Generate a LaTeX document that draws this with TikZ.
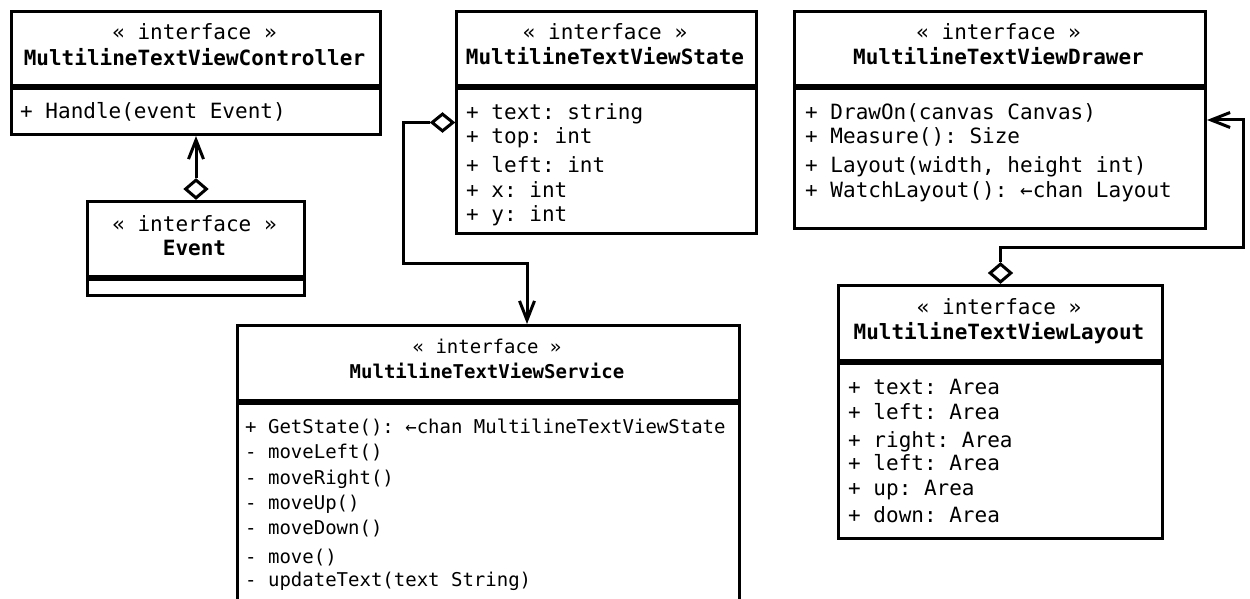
\documentclass[tikz,border=0pt]{standalone}
\usepackage{fontspec}
\setmonofont{DejaVu Sans Mono}
\usetikzlibrary{arrows.meta,shapes.geometric}
\begin{document}
\begin{tikzpicture}[x=1pt,y=-1pt,
  cls/.style={draw, line width=3pt, rectangle, inner sep=0pt, anchor=north west, fill=white},
  divline/.style={line width=6pt},
  txt/.style={inner sep=0pt, anchor=base west, font=\fontsize{21}{25}\selectfont\ttfamily},
  ttl/.style={inner sep=0pt, anchor=base, font=\fontsize{21}{25}\selectfont\ttfamily},
  nm/.style={inner sep=0pt, anchor=base, font=\fontsize{21}{25}\selectfont\ttfamily\bfseries},
  stxt/.style={inner sep=0pt, anchor=base west, font=\fontsize{19}{23}\selectfont\ttfamily},
  sttl/.style={inner sep=0pt, anchor=base, font=\fontsize{19}{23}\selectfont\ttfamily},
  snm/.style={inner sep=0pt, anchor=base, font=\fontsize{19}{23}\selectfont\ttfamily\bfseries},
  agg/.style={diamond, draw, fill=white, line width=3pt, inner sep=0pt, line join=miter},
  assoc/.style={line width=3pt, line join=miter, -{Straight Barb[length=19pt,width=15pt]}}
]
\useasboundingbox (0,0) rectangle (1250,599);
\clip (0,0) rectangle (1250,599);

% class boxes
\node[cls, minimum width=369pt, minimum height=123pt] (ctrl)   at (10,10)   {};
\node[cls, minimum width=217pt, minimum height=94pt]  (event)  at (86,200)  {};
\node[cls, minimum width=300pt, minimum height=222pt] (state)  at (455,10)  {};
\node[cls, minimum width=411pt, minimum height=217pt] (drawer) at (793,10)  {};
\node[cls, minimum width=324pt, minimum height=253pt] (layout) at (837,284) {};
\node[cls, minimum width=502pt, minimum height=320pt] (service) at (236,324) {};

% compartment dividers
\foreach \b in {ctrl,event,state,drawer,layout,service}
  \draw[divline] ([yshift=-77.5pt]\b.north west) -- ([yshift=-77.5pt]\b.north east);

% MultilineTextViewController
\node[ttl] (ctrl-st) at (194.5,40) {« interface »};
\node[nm]  (ctrl-nm) at (194.5,66) {MultilineTextViewController};
\node[txt] (ctrl-m1) at (20,119) {+ Handle(event Event)};

% Event
\node[ttl] (event-st) at (194.5,231) {« interface »};
\node[nm]  (event-nm) at (194.5,255) {Event};

% MultilineTextViewState
\node[ttl] (state-st) at (605,40) {« interface »};
\node[nm]  (state-nm) at (605,65) {MultilineTextViewState};
\node[txt] (state-a1) at (466,120) {+ text: string};
\node[txt] (state-a2) at (466,144) {+ top: int};
\node[txt] (state-a3) at (466,172) {+ left: int};
\node[txt] (state-a4) at (466,197) {+ x: int};
\node[txt] (state-a5) at (466,221) {+ y: int};

% MultilineTextViewDrawer
\node[ttl] (drawer-st) at (998.5,40) {« interface »};
\node[nm]  (drawer-nm) at (998.5,65) {MultilineTextViewDrawer};
\node[txt] (drawer-m1) at (805,120) {+ DrawOn(canvas Canvas)};
\node[txt] (drawer-m2) at (805,144) {+ Measure(): Size};
\node[txt] (drawer-m3) at (805,172) {+ Layout(width, height int)};
\node[txt] (drawer-m4) at (805,197) {+ WatchLayout(): ←chan Layout};

% MultilineTextViewLayout
\node[ttl] (layout-st) at (999,314) {« interface »};
\node[nm]  (layout-nm) at (999,339) {MultilineTextViewLayout};
\node[txt] (layout-a1) at (848,394) {+ text: Area};
\node[txt] (layout-a2) at (848,419) {+ left: Area};
\node[txt] (layout-a3) at (848,447) {+ right: Area};
\node[txt] (layout-a4) at (848,470) {+ left: Area};
\node[txt] (layout-a5) at (848,495) {+ up: Area};
\node[txt] (layout-a6) at (848,522) {+ down: Area};

% MultilineTextViewService
\node[sttl] (service-st) at (487,353) {« interface »};
\node[snm]  (service-nm) at (487,378) {MultilineTextViewService};
\node[stxt] (service-m1) at (245,433) {+ GetState(): ←chan MultilineTextViewState};
\node[stxt] (service-m2) at (245,458) {- moveLeft()};
\node[stxt] (service-m3) at (245,484) {- moveRight()};
\node[stxt] (service-m4) at (245,509) {- moveUp()};
\node[stxt] (service-m5) at (245,534) {- moveDown()};
\node[stxt] (service-m6) at (245,563) {- move()};
\node[stxt] (service-m7) at (245,586) {- updateText(text String)};

% aggregation diamonds at the owning ends
\node[agg, minimum width=22pt, minimum height=19pt, anchor=south] (evDia) at (event.north) {};
\node[agg, minimum width=22pt, minimum height=18pt, anchor=east]  (stDia) at (state.west) {};
\node[agg, minimum width=22pt, minimum height=19pt, anchor=south] (lyDia) at (layout.north) {};

% associations
\coordinate (sbend) at (403,263);
\coordinate (sin)   at (527,324);
\coordinate (dbend) at (1243,247);

\draw[assoc] (evDia.north) -- (ctrl.south);
\draw[assoc] (stDia.west) -| (sbend) -| (sin);
\draw[assoc] (lyDia.north) |- (dbend) |- (drawer.east);
\end{tikzpicture}
\end{document}
